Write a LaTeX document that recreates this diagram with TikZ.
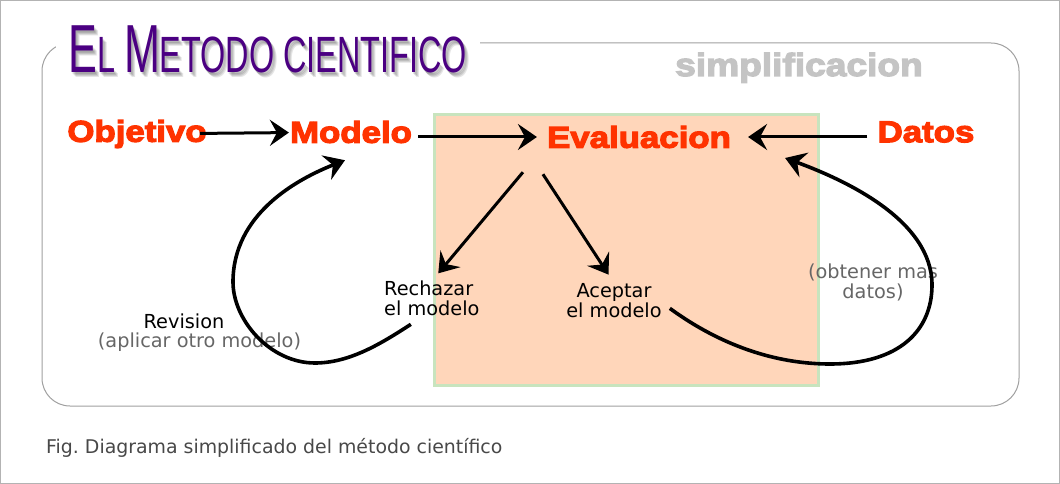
\documentclass[tikz,border=0pt]{standalone}
\usepackage{fontspec}
\setmainfont{DejaVu Sans}
\newfontfamily\titlefont[FakeStretch=0.635]{Liberation Sans}
\newfontfamily\heavyfont[FakeStretch=1.16,FakeBold=4]{Liberation Sans Bold}
\usetikzlibrary{arrows.meta}
\definecolor{titlepurple}{RGB}{75,0,130}
\definecolor{labelred}{RGB}{255,51,0}
\definecolor{subgray}{RGB}{196,196,196}
\definecolor{framegray}{RGB}{160,160,160}
\definecolor{areafill}{RGB}{255,214,186}
\definecolor{areaborder}{RGB}{200,228,190}
\definecolor{notegray}{RGB}{102,102,102}
\definecolor{captiongray}{RGB}{72,72,72}
\newcommand{\metodotitle}{\titlefont\fontsize{68}{68}\selectfont E\fontsize{51}{51}\selectfont L \fontsize{68}{68}\selectfont M\fontsize{51}{51}\selectfont ETODO CIENTIFICO}

\begin{document}
\begin{tikzpicture}[x=1pt,y=-1pt,
    redlabel/.style={font=\heavyfont\fontsize{30}{30}\selectfont, text=labelred, inner sep=0pt},
    arr/.style={line width=3pt, -{Stealth[length=19pt,width=26pt,inset=7pt]}},
    loopline/.style={line width=3.6pt, -{Stealth[length=20pt,width=26pt,inset=7pt]}},
    txt/.style={font=\fontsize{19.3}{20}\selectfont, inner sep=0pt},
    note/.style={txt, text=notegray}]
    \useasboundingbox (0,0) rectangle (1060,484);
    % Frames
    \draw[framegray!80, line width=1pt] (0.5,0.5) rectangle (1059.5,483.5);
    \draw[framegray, line width=1pt, rounded corners=28pt] (42,43) rectangle (1019,406);

    % Evaluation area
    \filldraw[fill=areafill, draw=areaborder, line width=3pt] (434,115) rectangle (818,385);

    % Title with soft shadow
    \fill[white] (56,16) rectangle (480,84);
    \foreach \d in {1,...,4}
        \node[anchor=base west, inner sep=0pt, text=black, opacity=0.1] at (68+\d,73+1.2*\d) {\metodotitle};
    \node[anchor=base west, inner sep=0pt, text=titlepurple] (title) at (68,73) {\metodotitle};
    \node[anchor=base west, inner sep=0pt, font=\heavyfont\fontsize{32}{32}\selectfont, text=subgray] (simp) at (675,76) {simplificacion};

    % Main steps
    \node[redlabel] (obj) at (137,134) {Objetivo};
    \node[redlabel] (mod) at (351,132) {Modelo};
    \node[redlabel] (eva) at (639,137) {Evaluacion};
    \node[redlabel] (dat) at (926,132) {Datos};

    % Outcomes
    \node[txt, align=left, anchor=north west] (rej) at (384,281) {Rechazar\\el modelo};
    \node[txt, align=center, anchor=north] (acc) at (614,283) {Aceptar\\el modelo};
    \node[txt, anchor=base] (rev) at (184,328) {Revision};
    \node[note, anchor=base] (revnote) at (199.5,347) {(aplicar otro modelo)};
    \node[note, align=center, anchor=north] (more) at (873,264) {(obtener mas\\datos)};

    % Arrows
    \draw[arr, shorten <=-7pt, shorten >=1pt] (obj) -- (mod);
    \draw[arr, shorten <=6pt, shorten >=10pt] (mod.east |- eva.west) -- (eva.west);
    \draw[arr, shorten <=10pt, shorten >=17pt] (dat.west |- eva.east) -- (eva.east);
    \draw[arr, shorten >=10pt] ([xshift=-24pt,yshift=-24pt]eva.south west) -- (rej.north);
    \draw[arr, shorten >=10pt] ([xshift=-4pt,yshift=-26pt]eva.south west) -- (acc.north);

    % Loops back
    \draw[loopline] ([xshift=-21pt,yshift=-8pt]rej.south) .. controls (382,343) and (350,363) .. (315,363)
        .. controls (270,363) and (233,320) .. (233,282)
        .. controls (233,215) and (295,180) .. ([xshift=-6pt,yshift=-17pt]mod.south);
    \draw[loopline] ([xshift=8pt,yshift=-8pt]acc.east) .. controls (720,345) and (775,364) .. (830,364)
        .. controls (900,364) and (932,330) .. (932,285)
        .. controls (932,220) and (845,180) .. ([xshift=54pt,yshift=-21pt]eva.east);

    % Caption
    \node[anchor=base west, inner sep=0pt, font=\fontsize{18.9}{20}\selectfont, text=captiongray] (caption) at (46,453) {Fig.\ Diagrama simplificado del método científico};
\end{tikzpicture}
\end{document}
